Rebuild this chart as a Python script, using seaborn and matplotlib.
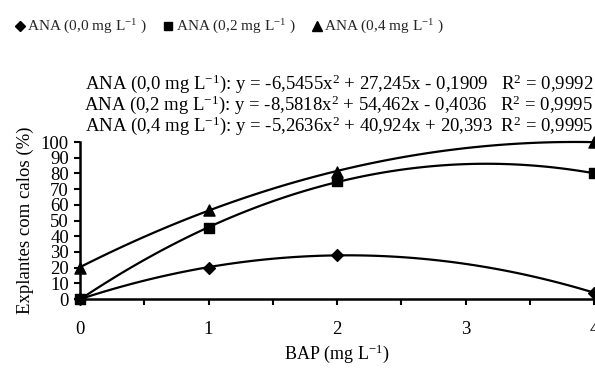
import numpy as np
import pandas as pd
import matplotlib
matplotlib.use("Agg")
import matplotlib.pyplot as plt
from matplotlib.lines import Line2D
from matplotlib.ticker import MultipleLocator
import seaborn as sns

sns.set_theme(style="white")
plt.rcParams['font.family'] = ['Liberation Serif', 'DejaVu Serif']
plt.rcParams['mathtext.fontset'] = 'custom'
plt.rcParams['mathtext.rm'] = 'Liberation Serif'
plt.rcParams['mathtext.it'] = 'Liberation Serif:italic'

bap = [0, 1, 2, 4]
ana00 = [0, 20, 28, 4]
ana02 = [0, 45, 75, 80]
ana04 = [20, 57, 81, 100]
series_labels = ["ANA (0,0 mg L$^{-1}$ )", "ANA (0,2 mg L$^{-1}$ )", "ANA (0,4 mg L$^{-1}$ )"]
markers = ["D", "s", "^"]
marker_sizes = [6, 7, 8]
equations = [
    "ANA (0,0 mg L$^{-1}$): y = -6,5455x$^{2}$ + 27,245x - 0,1909   R$^{2}$ = 0,9992",
    "ANA (0,2 mg L$^{-1}$): y = -8,5818x$^{2}$ + 54,462x - 0,4036   R$^{2}$ = 0,9995",
    "ANA (0,4 mg L$^{-1}$): y = -5,2636x$^{2}$ + 40,924x + 20,393  R$^{2}$ = 0,9995",
]

fig = plt.figure(figsize=(5.95, 3.68), dpi=100)
ax = fig.add_axes([80/595, 69/368, 514/595, 157/368])

for ys, m, ms in zip([ana00, ana02, ana04], markers, marker_sizes):
    df = pd.DataFrame({"x": bap, "y": ys})
    sns.regplot(data=df, x="x", y="y", order=2, ci=None, ax=ax,
                color="black", marker=m,
                scatter_kws=dict(s=ms**2, clip_on=False, zorder=5, alpha=1),
                line_kws=dict(lw=1.6, clip_on=False))

ax.set_xlim(0, 4)
ax.set_ylim(0, 100)
ax.xaxis.set_major_locator(MultipleLocator(1))
ax.xaxis.set_minor_locator(MultipleLocator(0.5))
ax.yaxis.set_major_locator(MultipleLocator(10))
ax.tick_params(axis='both', which='both', direction='out', colors='black',
               labelsize=13.5, width=1.5)
ax.tick_params(axis='x', which='major', length=4, pad=12)
ax.tick_params(axis='x', which='minor', length=4)
ax.tick_params(axis='y', which='major', length=4, pad=4)
ax.tick_params(bottom=True, left=True, which='both')
for s in ['top', 'right']:
    ax.spines[s].set_visible(False)
for s in ['left', 'bottom']:
    ax.spines[s].set_color('black')
    ax.spines[s].set_linewidth(1.8)

ax.set_xlabel("BAP (mg L$^{-1}$)", fontsize=13, color='black', labelpad=3)
ax.set_ylabel("Explantes com calos (%)", fontsize=13.5, color='black', labelpad=5)

for i, eq in enumerate(equations):
    fig.text(593/595, 1 - (84 + 21*i)/368, eq, ha='right', va='center',
             fontsize=13.5, color='black')

handles = [Line2D([], [], ls='none', marker=m, color='black', markersize=ms*0.9)
           for m, ms in zip(markers, marker_sizes)]
fig.legend(handles, series_labels, loc='center left', bbox_to_anchor=(12/595, 1 - 27/368),
           ncol=3, frameon=False, fontsize=11, handletextpad=0.0, columnspacing=0.9,
           handlelength=1.0, borderaxespad=0, borderpad=0)

fig.savefig("out.png", dpi=100)
